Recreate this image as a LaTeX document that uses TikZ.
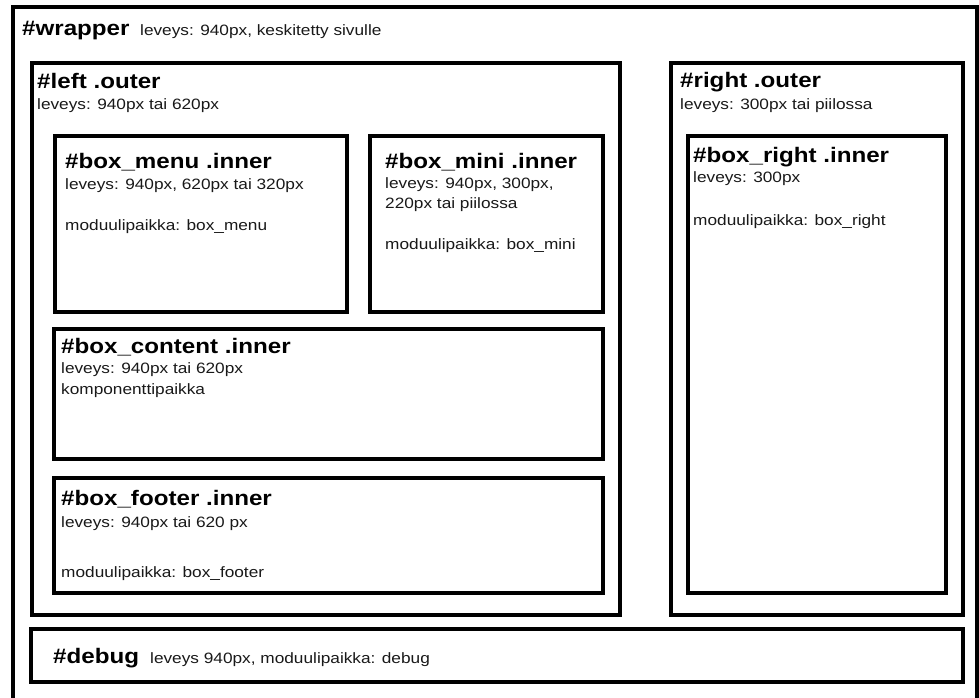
\documentclass[tikz,border=0pt]{standalone}
\usepackage{fontspec}
\setmainfont{Liberation Sans}[FakeStretch=1.15]
\tikzset{
  frame/.style={draw=black, line width=3.2pt, inner sep=0pt, outer sep=0pt, anchor=north west},
  title/.style={anchor=base west, inner sep=0pt, text=black, font=\bfseries\fontsize{21}{25}\selectfont},
  note/.style={anchor=base west, inner sep=0pt, text=black!90, font=\fontsize{15}{19}\selectfont},
}
\begin{document}
\begin{tikzpicture}[x=1pt, y=-1pt]
  \useasboundingbox (0,0) rectangle (979,698);
  \clip (0,0) rectangle (979,698);
  \fill[white] (0,0) rectangle (979,698);

  % page wrapper (runs past the lower edge)
  \node[frame, minimum width=964pt, minimum height=730pt] (wrapper) at (13,7) {};
  \node[title] (wrapperT) at (22,36) {\#wrapper};
  \node[note] (wrapperN) at (140,36) {leveys: 940px, keskitetty sivulle};

  % left column
  \node[frame, minimum width=588pt, minimum height=552pt] (leftouter) at (32,63) {};
  \node[title] (leftT) at (37,89) {\#left .outer};
  \node[note] (leftN) at (37,110) {leveys: 940px tai 620px};

  \node[frame, minimum width=292pt, minimum height=176pt] (menu) at (55,136) {};
  \node[title] (menuT) at (65,168) {\#box\_menu .inner};
  \node[note] (menuN1) at (65,189) {leveys: 940px, 620px tai 320px};
  \node[note] (menuN2) at (65,230) {moduulipaikka: box\_menu};

  \node[frame, minimum width=233pt, minimum height=176pt] (mini) at (370,136) {};
  \node[title] (miniT) at (385,168) {\#box\_mini .inner};
  \node[note] (miniN1) at (385,188) {leveys: 940px, 300px,};
  \node[note] (miniN2) at (385,208) {220px tai piilossa};
  \node[note] (miniN3) at (385,249) {moduulipaikka: box\_mini};

  \node[frame, minimum width=549pt, minimum height=130pt] (content) at (54,329) {};
  \node[title] (contentT) at (61,353) {\#box\_content .inner};
  \node[note] (contentN1) at (61,373) {leveys: 940px tai 620px};
  \node[note] (contentN2) at (61,394) {komponenttipaikka};

  \node[frame, minimum width=549pt, minimum height=115pt] (footer) at (54,478) {};
  \node[title] (footerT) at (61,505) {\#box\_footer .inner};
  \node[note] (footerN1) at (61,527) {leveys: 940px tai 620 px};
  \node[note] (footerN2) at (61,577) {moduulipaikka: box\_footer};

  % right column
  \node[frame, minimum width=292pt, minimum height=552pt] (rightouter) at (671,63) {};
  \node[title] (rightT) at (680,88) {\#right .outer};
  \node[note] (rightN) at (680,110) {leveys: 300px tai piilossa};

  \node[frame, minimum width=258pt, minimum height=457pt] (boxright) at (688,136) {};
  \node[title] (boxrightT) at (693,162) {\#box\_right .inner};
  \node[note] (boxrightN1) at (693,182) {leveys: 300px};
  \node[note] (boxrightN2) at (693,225) {moduulipaikka: box\_right};

  % debug strip
  \node[frame, minimum width=932pt, minimum height=53pt] (debug) at (31,629) {};
  \node[title] (debugT) at (53,663) {\#debug};
  \node[note] (debugN) at (150,663) {leveys 940px, moduulipaikka: debug};
\end{tikzpicture}
\end{document}
